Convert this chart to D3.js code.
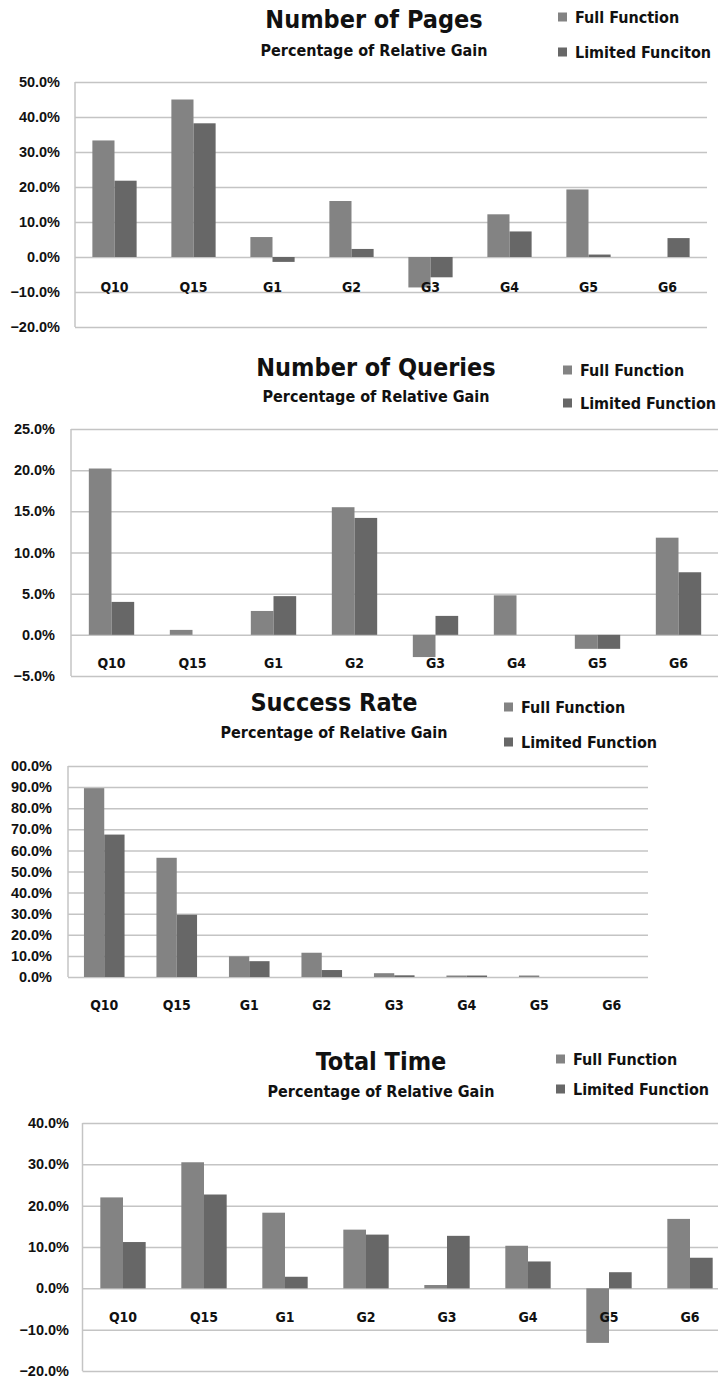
<!DOCTYPE html>
<html>
<head>
<meta charset="utf-8">
<script src="https://cdn.jsdelivr.net/npm/d3@7"></script>
<style>
  body { margin: 0; background: #fff; }
  text { font-family: "Liberation Sans Narrow", "DejaVu Sans Condensed", "Liberation Sans", sans-serif; font-weight: bold; fill: #111; }
</style>
</head>
<body>
<div id="chart-area"></div>
<script>
// categories shared by all four panels
let categories = ["Q10", "Q15", "G1", "G2", "G3", "G4", "G5", "G6"];

// Number of Pages (%)
let pagesFull    = [33.3, 45.0, 5.7, 16.0, -8.7, 12.2, 19.3, 0];
let pagesLimited = [21.8, 38.2, -1.4, 2.3, -5.8, 7.3, 0.7, 5.4];
let pagesTicks   = [-20, -10, 0, 10, 20, 30, 40, 50];

// Number of Queries (%)
let queriesFull    = [20.2, 0.6, 2.9, 15.5, -2.7, 4.8, -1.7, 11.8];
let queriesLimited = [4.0, 0, 4.7, 14.2, 2.3, 0, -1.7, 7.6];
let queriesTicks   = [-5, 0, 5, 10, 15, 20, 25];

// Success Rate (%)
let successFull    = [89.5, 56.5, 9.8, 11.5, 1.8, 0.7, 0.7, 0];
let successLimited = [67.5, 29.5, 7.5, 3.3, 0.8, 0.7, 0, 0];
let successTicks   = [0, 10, 20, 30, 40, 50, 60, 70, 80, 90, 100];
let successTickLabels = ["0.0%", "10.0%", "20.0%", "30.0%", "40.0%", "50.0%",
                         "60.0%", "70.0%", "80.0%", "90.0%", "00.0%"];

// Total Time (%)
let timeFull    = [22.0, 30.5, 18.3, 14.2, 0.8, 10.3, -13.2, 16.8];
let timeLimited = [11.2, 22.7, 2.8, 13.0, 12.7, 6.5, 3.9, 7.4];
let timeTicks   = [-20, -10, 0, 10, 20, 30, 40];

let subtitle = "Percentage of Relative Gain";
let fullColor = "#838383";
let limitedColor = "#676767";
let gridColor = "#c4c4c4";

let fmt = d => d3.format(".1f")(d) + "%";

let svg = d3.select("#chart-area")
  .append("svg")
  .attr("width", 718)
  .attr("height", 1380);

let panels = [
  { title: "Number of Pages", legend: ["Full Function", "Limited Funciton"],
    full: pagesFull, limited: pagesLimited, ticks: pagesTicks, labels: pagesTicks.map(fmt),
    left: 75, step: 79, top: 82, bottom: 327, labelRight: 60, catY: 292,
    titleX: 374, titleY: 28, subY: 56, legX: 558, legY: [17, 52] },
  { title: "Number of Queries", legend: ["Full Function", "Limited Function"],
    full: queriesFull, limited: queriesLimited, ticks: queriesTicks, labels: queriesTicks.map(fmt),
    left: 71, step: 81, top: 429, bottom: 676, labelRight: 55, catY: 668,
    titleX: 376, titleY: 376, subY: 402, legX: 563, legY: [370, 403] },
  { title: "Success Rate", legend: ["Full Function", "Limited Function"],
    full: successFull, limited: successLimited, ticks: successTicks, labels: successTickLabels,
    left: 68, step: 72.5, top: 766, bottom: 977, labelRight: 52, catY: 1010,
    titleX: 334, titleY: 711, subY: 738, legX: 504, legY: [707, 742] },
  { title: "Total Time", legend: ["Full Function", "Limited Function"],
    full: timeFull, limited: timeLimited, ticks: timeTicks, labels: timeTicks.map(fmt),
    left: 82.5, step: 81, top: 1123, bottom: 1371, labelRight: 69, catY: 1322,
    titleX: 381, titleY: 1070, subY: 1097, legX: 556, legY: [1059, 1089] }
];

panels.forEach(p => {
  let g = svg.append("g");
  let width = p.step * categories.length;

  let x = d3.scaleBand()
    .domain(categories)
    .range([p.left, p.left + width])
    .paddingInner(0.44)
    .paddingOuter(0.22);

  let xs = d3.scaleBand()
    .domain(["full", "limited"])
    .range([0, x.bandwidth()]);

  let y = d3.scaleLinear()
    .domain([d3.min(p.ticks), d3.max(p.ticks)])
    .range([p.bottom, p.top]);

  // gridlines
  g.append("g")
    .attr("transform", "translate(" + p.left + ",0)")
    .call(d3.axisRight(y).tickValues(p.ticks).tickSize(width).tickFormat(""))
    .call(a => a.select(".domain").remove())
    .selectAll("line")
    .attr("stroke", gridColor)
    .attr("stroke-width", 1.5);

  // left axis line
  g.append("line")
    .attr("x1", p.left).attr("x2", p.left)
    .attr("y1", p.top).attr("y2", p.bottom)
    .attr("stroke", gridColor)
    .attr("stroke-width", 1.5);

  // y labels
  g.append("g")
    .attr("transform", "translate(" + p.labelRight + ",0)")
    .call(d3.axisLeft(y).tickValues(p.ticks).tickSize(0).tickPadding(0)
      .tickFormat((d, i) => p.labels[i]))
    .call(a => a.select(".domain").remove())
    .selectAll("text")
    .attr("font-size", "14.5px")
    .style("font-family", "inherit");

  let rows = categories.map((c, i) => ({ cat: c, full: p.full[i], limited: p.limited[i] }));

  // bars
  ["full", "limited"].forEach(key => {
    g.selectAll("rect." + key)
      .data(rows)
      .enter()
      .append("rect")
      .attr("class", key)
      .attr("x", d => x(d.cat) + xs(key))
      .attr("width", xs.bandwidth())
      .attr("y", d => y(Math.max(0, d[key])))
      .attr("height", d => Math.abs(y(d[key]) - y(0)))
      .attr("fill", key === "full" ? fullColor : limitedColor);
  });

  // category labels
  g.selectAll("text.cat")
    .data(categories)
    .enter()
    .append("text")
    .attr("class", "cat")
    .attr("x", d => x(d) + x.bandwidth() / 2)
    .attr("y", p.catY)
    .attr("text-anchor", "middle")
    .attr("font-size", "14px")
    .text(d => d);

  // title + subtitle
  g.append("text")
    .attr("x", p.titleX)
    .attr("y", p.titleY)
    .attr("text-anchor", "middle")
    .attr("font-size", "25px")
    .text(p.title);

  g.append("text")
    .attr("x", p.titleX)
    .attr("y", p.subY)
    .attr("text-anchor", "middle")
    .attr("font-size", "16px")
    .text(subtitle);

  // legend
  p.legend.forEach((name, i) => {
    g.append("rect")
      .attr("x", p.legX)
      .attr("y", p.legY[i] - 4.5)
      .attr("width", 9)
      .attr("height", 9)
      .attr("fill", i === 0 ? fullColor : limitedColor);
    g.append("text")
      .attr("x", p.legX + 17)
      .attr("y", p.legY[i] + 5.5)
      .attr("font-size", "16px")
      .text(name);
  });
});
</script>
</body>
</html>
